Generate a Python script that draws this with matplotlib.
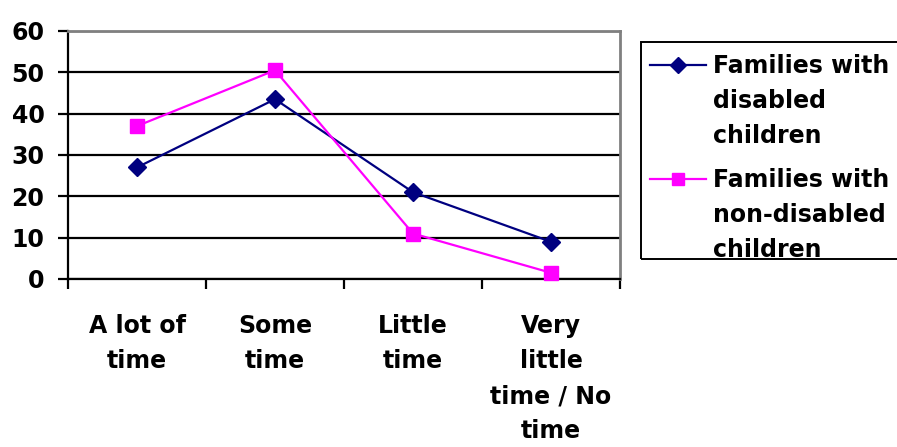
import numpy as np
import matplotlib.pyplot as plt
from matplotlib.patches import Rectangle
from matplotlib.lines import Line2D

plt.rcParams['font.family'] = ['DejaVu Sans']
plt.rcParams['font.weight'] = 'bold'

# data
categories = ['A lot of\ntime', 'Some\ntime', 'Little\ntime', 'Very\nlittle\ntime / No\ntime']
disabled = [27, 43.5, 21, 9]
non_disabled = [37, 50.5, 11, 1.5]
series_labels = ['Families with\ndisabled\nchildren', 'Families with\nnon-disabled\nchildren']
series_colors = ['#000080', '#FF00FF']
series_markers = ['D', 's']

FS = 17
LS = 1.58
W, H = 897, 447
fig = plt.figure(figsize=(W / 100, H / 100), dpi=100)
ax = fig.add_axes([68 / W, 1 - 279 / H, 552 / W, 248 / H])

x = np.arange(len(categories))
ax.plot(x, disabled, color=series_colors[0], marker='D', markersize=9.5, lw=1.6, zorder=3, clip_on=False)
ax.plot(x, non_disabled, color=series_colors[1], marker='s', markersize=10, lw=1.6, zorder=3, clip_on=False)

ax.set_xlim(-0.5, len(categories) - 0.5)
ax.set_ylim(0, 60)
ax.set_yticks(range(0, 61, 10))
ax.yaxis.grid(True, color='black', lw=1.6)
ax.set_axisbelow(True)

# ticks at the category borders, labels in the middle
ax.set_xticks(np.arange(-0.5, len(categories), 1))
ax.set_xticklabels([])
ax.set_xticks(x, minor=True)
ax.set_xticklabels(categories, minor=True, fontsize=FS, fontweight='bold', linespacing=LS, va='top')
ax.tick_params(axis='x', which='major', direction='out', length=7, width=1.6)
ax.tick_params(axis='x', which='minor', length=0, pad=25.5)
ax.tick_params(axis='y', direction='out', length=7, width=1.6, pad=10, labelsize=FS)
for t in ax.get_yticklabels():
    t.set_fontweight('bold')

ax.spines['left'].set_linewidth(1.6)
ax.spines['bottom'].set_linewidth(1.6)
ax.spines['top'].set_color('#808080')
ax.spines['right'].set_color('#808080')
ax.spines['top'].set_linewidth(2)
ax.spines['right'].set_linewidth(2)

# legend drawn by hand so the box can run past the right edge
fig.patches.append(Rectangle((641 / W, 1 - 259 / H), 280 / W, 217 / H, transform=fig.transFigure,
                             fill=False, edgecolor='black', lw=1.4))
for i, (lab, c, m) in enumerate(zip(series_labels, series_colors, series_markers)):
    yy = 1 - (65 + i * 114) / H
    fig.lines.append(Line2D([650 / W, 706 / W], [yy, yy], transform=fig.transFigure, color=c, lw=1.6))
    fig.lines.append(Line2D([678 / W], [yy], transform=fig.transFigure, color=c, marker=m,
                            markersize=8 if m == 'D' else 9, ls='none'))
    fig.text(713 / W, 1 - (65 + i * 114 - 11) / H, lab, fontsize=FS, fontweight='bold',
             va='top', linespacing=LS, transform=fig.transFigure)

fig.savefig('out.png', dpi=100)
